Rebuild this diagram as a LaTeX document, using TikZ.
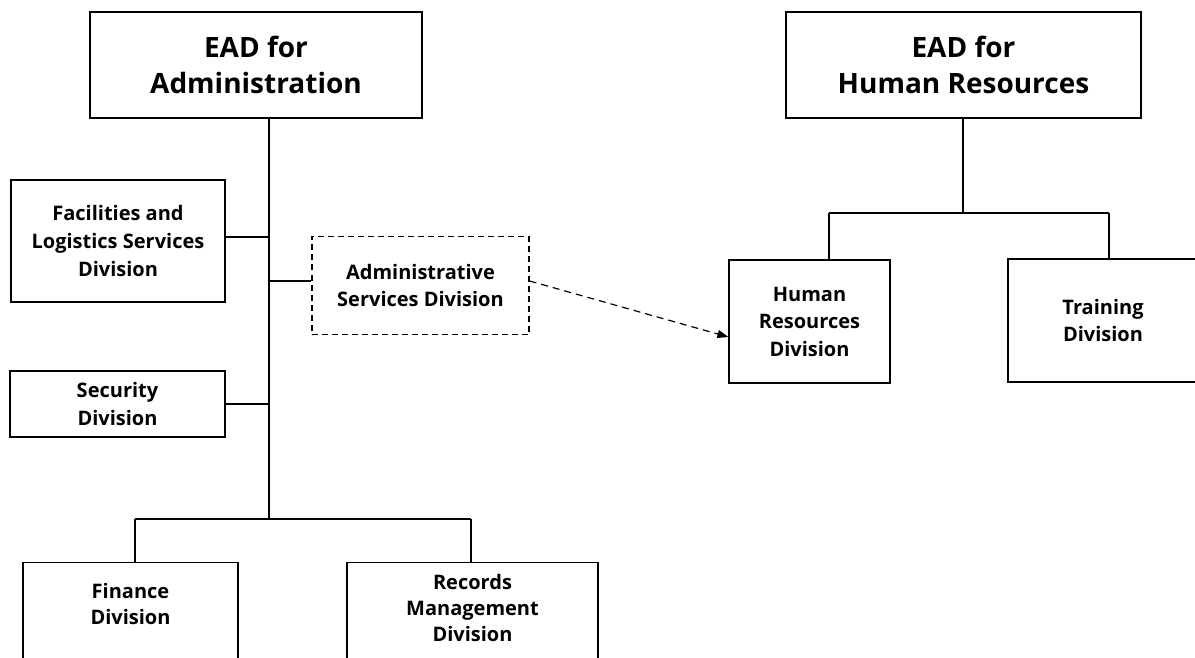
\documentclass[tikz,border=0pt]{standalone}
\usepackage{fontspec}
\setmainfont{Open Sans}
\usetikzlibrary{arrows.meta}
\begin{document}
\begin{tikzpicture}[x=1pt,y=-1pt,
  line width=1.2pt,
  box/.style={draw, line width=1.2pt, inner sep=0pt, align=center,
    font=\bfseries\fontsize{20}{27.5}\selectfont},
  bigbox/.style={box, font=\bfseries\fontsize{28}{36}\selectfont},
  dbox/.style={box, dash pattern=on 6pt off 4pt},
  txt/.style={inner sep=0pt, align=center, font=\bfseries\fontsize{20}{26}\selectfont},
  conn/.style={draw, line width=1.2pt},
  darrow/.style={draw, line width=1.2pt, dash pattern=on 7pt off 5pt,
    -{Triangle[length=11pt,width=8pt]}}]
\useasboundingbox (0,0) rectangle (1195,658);
\clip (0,0) rectangle (1195,658);
\fill[white] (0,0) rectangle (1195,658);
% top boxes
\node[bigbox, minimum width=332pt, minimum height=106pt] (ead1) at (256,65) {EAD for\\Administration};
\node[bigbox, minimum width=355pt, minimum height=106pt] (ead2) at (963.5,65) {EAD for\\Human Resources};
% left side
\node[box, minimum width=214pt, minimum height=122pt] (fac) at (118,241) {Facilities and\\Logistics Services\\Division};
\node[dbox, minimum width=217pt, minimum height=98pt] (asd) at (420.5,285.5) {Administrative\\Services Division};
\node[box, minimum width=215pt, minimum height=66pt] (sec) at (117.5,404) {Security\\Division};
\node[box, minimum width=215pt, minimum height=140pt, anchor=north] (fin) at (130.5,562) {};
\node[txt] (fint) at (130.5,604) {Finance\\Division};
\node[box, minimum width=251pt, minimum height=140pt, anchor=north] (rec) at (472.5,562) {};
\node[txt] (rect) at (472.5,608) {Records\\Management\\Division};
% right side
\node[box, minimum width=161pt, minimum height=123pt] (hr) at (809.5,321.5) {Human\\Resources\\Division};
\node[box, minimum width=190pt, minimum height=123pt] (tr) at (1103,320.5) {Training\\Division};
% connectors left
\coordinate (mA) at (269,519);
\coordinate (fj) at (269,237);
\coordinate (aj) at (269,281);
\coordinate (fd) at (135,519);
\coordinate (rd) at (471,519);
\draw[conn] (mA |- ead1.south) -- (mA);
\draw[conn] (fj -| fac.east) -- (fj);
\draw[conn] (aj) -- (aj -| asd.west);
\draw[conn] (sec.east) -- (sec.east -| mA);
\draw[conn] (fd) -- (rd);
\draw[conn] (fd) -- (fd |- fin.north);
\draw[conn] (rd) -- (rd |- rec.north);
% connectors right
\coordinate (hj) at (963,213);
\coordinate (hd) at (829,213);
\coordinate (td) at (1109,213);
\draw[conn] (hj |- ead2.south) -- (hj);
\draw[conn] (hd) -- (td);
\draw[conn] (hd) -- (hd |- hr.north);
\draw[conn] (td) -- (td |- tr.north);
% dashed arrow
\coordinate (ae) at (0,337);
\draw[darrow] (aj -| asd.east) -- (ae -| hr.west);
\end{tikzpicture}
\end{document}
